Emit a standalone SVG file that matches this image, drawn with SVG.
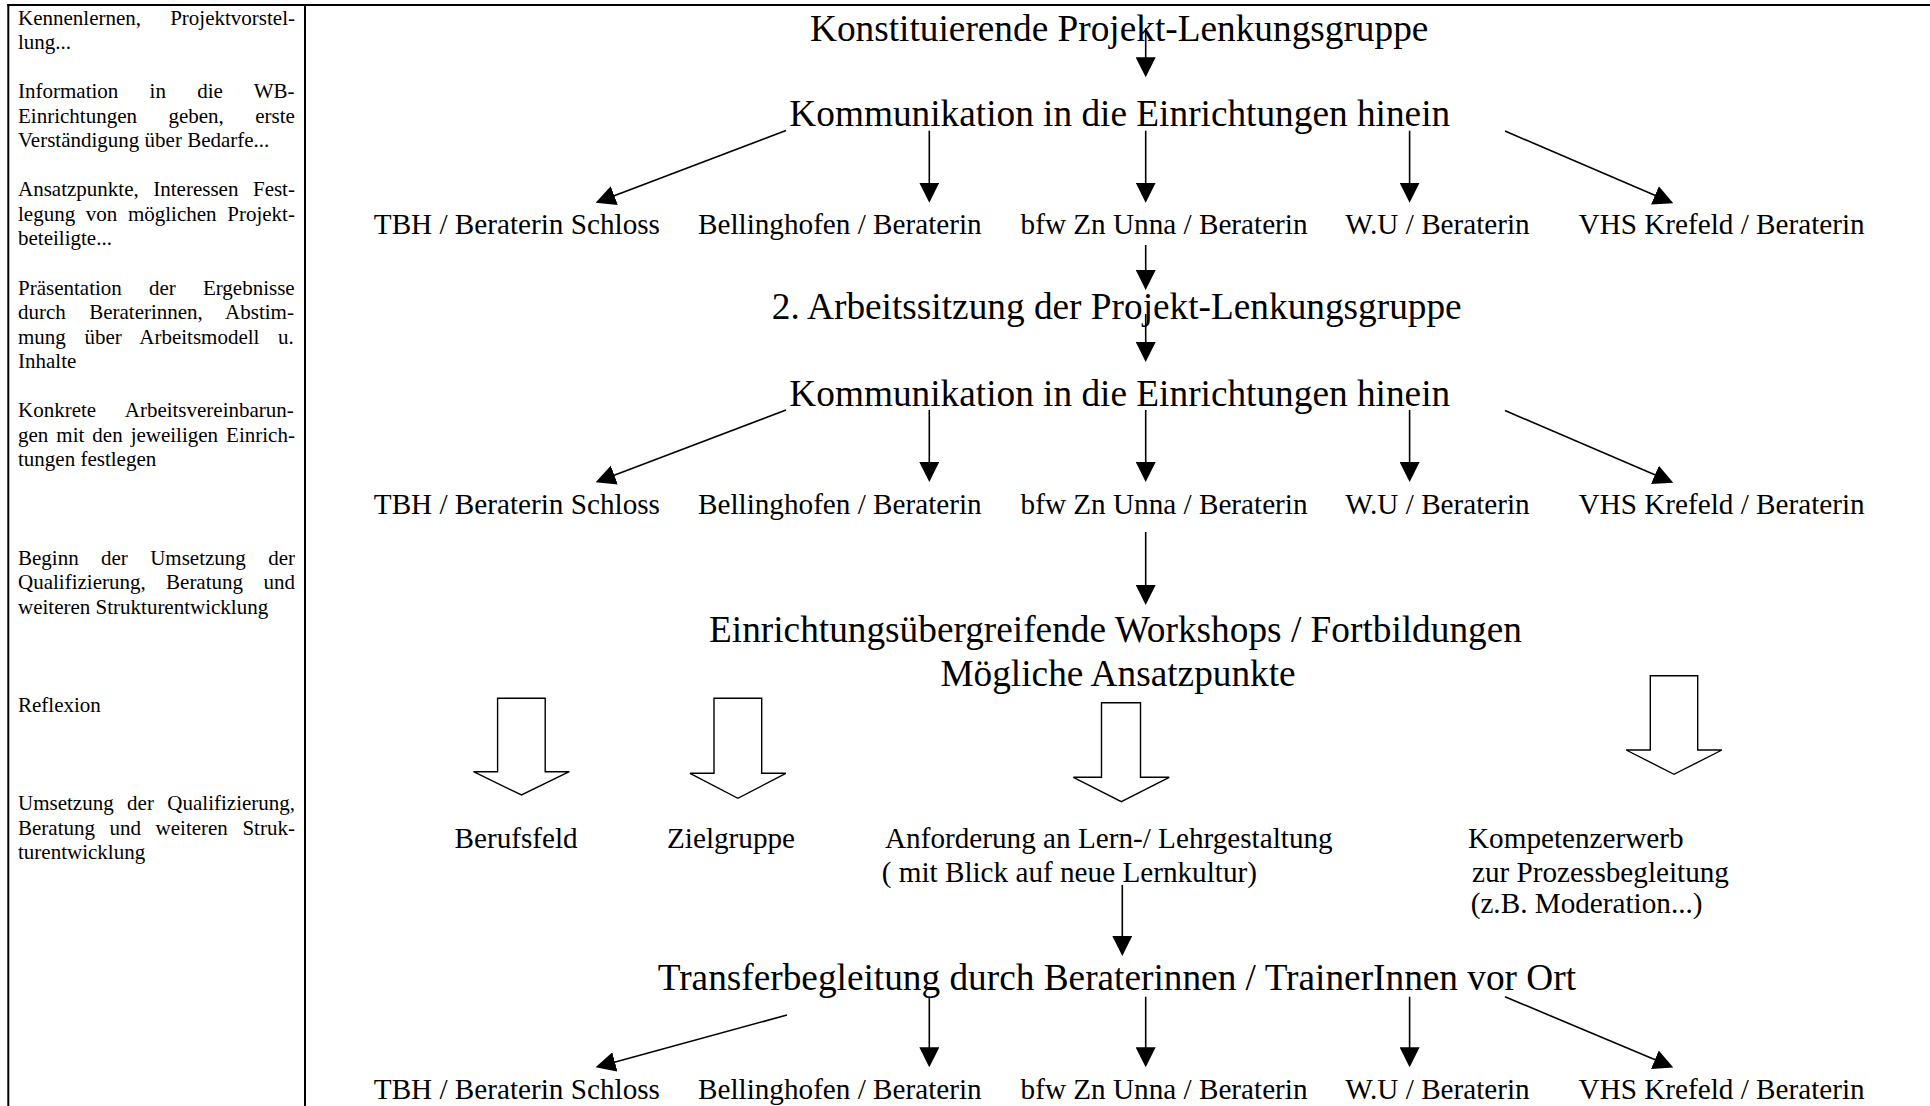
<svg xmlns="http://www.w3.org/2000/svg" width="1930" height="1106" viewBox="0 0 1930 1106">
<style>
text{font-family:"Liberation Serif","Times New Roman",serif;fill:#000}
.h{font-size:37.3px}
.l{font-size:29.2px}
.s{font-size:21px}
.frame{stroke:#000;stroke-width:2;fill:none}
.con line{stroke:#000;stroke-width:1.6;fill:none}
.hollow{fill:#fff;stroke:#000;stroke-width:1.4;stroke-linejoin:miter}
</style>
<defs>
<marker id="ah" markerUnits="userSpaceOnUse" markerWidth="20" markerHeight="20" refX="10" refY="10" orient="auto" viewBox="0 0 20 20">
<path d="M0,0 L20,10 L0,20 z" fill="#000"/>
</marker>
</defs>
<rect width="1930" height="1106" fill="#fff"/>
<g id="frame" class="frame">
<line x1="7.3" y1="5" x2="1930" y2="5"/>
<line x1="8.3" y1="4" x2="8.3" y2="1106"/>
<line x1="305" y1="4" x2="305" y2="1106"/>
</g>
<g id="phases" class="s">
<text x="18" y="24.5" word-spacing="23.9">Kennenlernen, Projektvorstel-</text>
<text x="18" y="49.05">lung...</text>
<text x="18" y="98.15" word-spacing="26">Information in die WB-</text>
<text x="18" y="122.7" word-spacing="26.2">Einrichtungen geben, erste</text>
<text x="18" y="147.25">Verständigung über Bedarfe...</text>
<text x="18" y="196.35" word-spacing="9.3">Ansatzpunkte, Interessen Fest-</text>
<text x="18" y="220.9" word-spacing="5.4">legung von  möglichen Projekt-</text>
<text x="18" y="245.45">beteiligte...</text>
<text x="18" y="294.55" word-spacing="21.9">Präsentation der Ergebnisse</text>
<text x="18" y="319.1" word-spacing="18.1">durch Beraterinnen, Abstim-</text>
<text x="18" y="343.65" word-spacing="13.4">mung über Arbeitsmodell u.</text>
<text x="18" y="368.2">Inhalte</text>
<text x="18" y="417.3" word-spacing="24.5">Konkrete Arbeitsvereinbarun-</text>
<text x="18" y="441.85" word-spacing="2.75">gen mit den jeweiligen Einrich-</text>
<text x="18" y="466.4">tungen festlegen</text>
<text x="18" y="564.6" word-spacing="17.1">Beginn der Umsetzung der</text>
<text x="18" y="589.15" word-spacing="15.1">Qualifizierung, Beratung und</text>
<text x="18" y="613.7">weiteren Strukturentwicklung</text>
<text x="18" y="711.9">Reflexion</text>
<text x="18" y="810.1" word-spacing="8.2">Umsetzung der Qualifizierung,</text>
<text x="18" y="834.65" word-spacing="9.3">Beratung und weiteren Struk-</text>
<text x="18" y="859.2">turentwicklung</text>
</g>
<g id="n-konstituierende"><text class="h" x="810" y="40.5">Konstituierende Projekt-Lenkungsgruppe</text></g>
<g id="n-kommunikation1"><text class="h" x="789.3" y="126">Kommunikation in die Einrichtungen hinein</text></g>
<g id="n-row1">
<text class="l" x="373.8" y="234">TBH / Beraterin Schloss</text>
<text class="l" x="698" y="234">Bellinghofen / Beraterin</text>
<text class="l" x="1020.6" y="234">bfw Zn Unna / Beraterin</text>
<text class="l" x="1345.2" y="234">W.U / Beraterin</text>
<text class="l" x="1578.6" y="234">VHS Krefeld / Beraterin</text>
</g>
<g id="n-arbeitssitzung"><text class="h" x="771.8" y="319.3">2. Arbeitssitzung der Projekt-Lenkungsgruppe</text></g>
<g id="n-kommunikation2"><text class="h" x="789.3" y="405.5">Kommunikation in die Einrichtungen hinein</text></g>
<g id="n-row2">
<text class="l" x="373.8" y="514">TBH / Beraterin Schloss</text>
<text class="l" x="698" y="514">Bellinghofen / Beraterin</text>
<text class="l" x="1020.6" y="514">bfw Zn Unna / Beraterin</text>
<text class="l" x="1345.2" y="514">W.U / Beraterin</text>
<text class="l" x="1578.6" y="514">VHS Krefeld / Beraterin</text>
</g>
<g id="n-workshops">
<text class="h" x="709" y="641.8">Einrichtungsübergreifende Workshops / Fortbildungen</text>
<text class="h" x="940.4" y="686">Mögliche Ansatzpunkte</text>
</g>
<g id="n-hollow-arrows">
<polygon class="hollow" points="497.6,698.3 545.2,698.3 545.2,771.7 569.3,771.7 521.5,795 473.5,771.7 497.6,771.7"/>
<polygon class="hollow" points="714,698.3 761.7,698.3 761.7,773.3 785.8,773.3 737.9,798.3 690,773.3 714,773.3"/>
<polygon class="hollow" points="1101.5,702.7 1140.5,702.7 1140.5,777.3 1169.2,777.3 1121.3,801.7 1073.4,777.3 1101.5,777.3"/>
<polygon class="hollow" points="1650.3,675.7 1697.7,675.7 1697.7,750 1721.9,750 1674,774.3 1626.2,750 1650.3,750"/>
</g>
<g id="n-berufsfeld"><text class="l" x="454.5" y="848.3">Berufsfeld</text></g>
<g id="n-zielgruppe"><text class="l" x="667" y="848.3">Zielgruppe</text></g>
<g id="n-anforderung">
<text class="l" x="885" y="848.3">Anforderung an Lern-/ Lehrgestaltung</text>
<text class="l" x="881.7" y="881.7">( mit Blick auf neue Lernkultur)</text>
</g>
<g id="n-kompetenz">
<text class="l" x="1468" y="848.3">Kompetenzerwerb</text>
<text class="l" x="1472" y="881.7">zur Prozessbegleitung</text>
<text class="l" x="1470.7" y="913.3">(z.B. Moderation...)</text>
</g>
<g id="n-transfer"><text class="h" x="657.7" y="990">Transferbegleitung durch Beraterinnen / TrainerInnen vor Ort</text></g>
<g id="n-row3">
<text class="l" x="373.8" y="1099">TBH / Beraterin Schloss</text>
<text class="l" x="698" y="1099">Bellinghofen / Beraterin</text>
<text class="l" x="1020.6" y="1099">bfw Zn Unna / Beraterin</text>
<text class="l" x="1345.2" y="1099">W.U / Beraterin</text>
<text class="l" x="1578.6" y="1099">VHS Krefeld / Beraterin</text>
</g>
<g id="connectors" class="con">
<line x1="1145.7" y1="28" x2="1145.7" y2="67.3" marker-end="url(#ah)"/>
<line x1="786" y1="130.5" x2="604.95" y2="199.15" marker-end="url(#ah)"/>
<line x1="929.3" y1="130.7" x2="929.3" y2="192.7" marker-end="url(#ah)"/>
<line x1="1145.7" y1="130.7" x2="1145.7" y2="192.7" marker-end="url(#ah)"/>
<line x1="1409.6" y1="130.7" x2="1409.6" y2="192.7" marker-end="url(#ah)"/>
<line x1="1505" y1="131" x2="1664.1" y2="199.35" marker-end="url(#ah)"/>
<line x1="1145.7" y1="245" x2="1145.7" y2="280" marker-end="url(#ah)"/>
<line x1="1145.7" y1="314" x2="1145.7" y2="352" marker-end="url(#ah)"/>
<line x1="786" y1="410" x2="604.95" y2="478.65" marker-end="url(#ah)"/>
<line x1="929.3" y1="410" x2="929.3" y2="472" marker-end="url(#ah)"/>
<line x1="1145.7" y1="410" x2="1145.7" y2="472" marker-end="url(#ah)"/>
<line x1="1409.6" y1="410" x2="1409.6" y2="472" marker-end="url(#ah)"/>
<line x1="1505" y1="410.5" x2="1664.1" y2="478.85" marker-end="url(#ah)"/>
<line x1="1145.7" y1="532" x2="1145.7" y2="595" marker-end="url(#ah)"/>
<line x1="1122.3" y1="885" x2="1122.3" y2="946" marker-end="url(#ah)"/>
<line x1="787" y1="1015" x2="605.25" y2="1064.66" marker-end="url(#ah)"/>
<line x1="929.3" y1="996.7" x2="929.3" y2="1057.3" marker-end="url(#ah)"/>
<line x1="1145.7" y1="996.7" x2="1145.7" y2="1057.3" marker-end="url(#ah)"/>
<line x1="1409.6" y1="996.7" x2="1409.6" y2="1057.3" marker-end="url(#ah)"/>
<line x1="1505" y1="996.7" x2="1664.1" y2="1063.6" marker-end="url(#ah)"/>
</g>
</svg>
